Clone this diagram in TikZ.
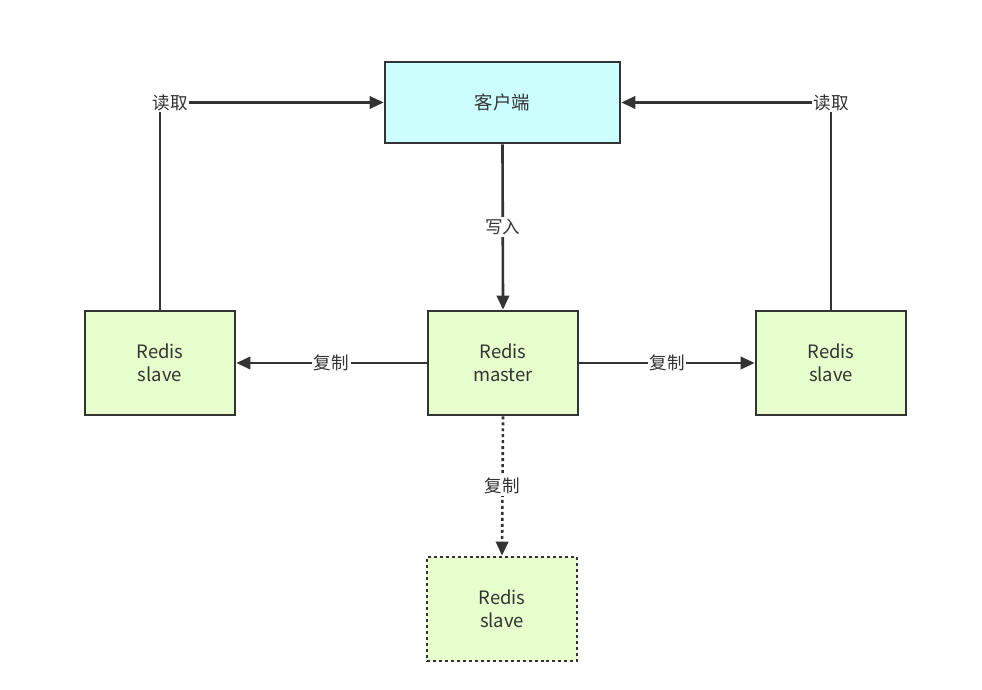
\documentclass[tikz,border=0pt]{standalone}
\usepackage{fontspec}
\setmainfont{Noto Sans CJK SC}
\usetikzlibrary{arrows.meta}
\definecolor{edge}{HTML}{333333}
\definecolor{cyanfill}{HTML}{CCFFFF}
\definecolor{greenfill}{HTML}{E6FFCC}
\definecolor{txt}{HTML}{333333}
\begin{document}
\begin{tikzpicture}[x=0.02cm,y=-0.02cm,
  box/.style={draw=edge,line width=1.5pt,align=center,text=txt,font=\fontsize{10.5}{13}\selectfont,inner sep=0pt},
  client/.style={box,fill=cyanfill,minimum width=4.7cm,minimum height=1.62cm},
  redis/.style={box,fill=greenfill,minimum width=3cm,minimum height=2.08cm},
  conn/.style={draw=edge,line width=1.5pt,-{Triangle[length=8pt,width=7pt]}},
  lbl/.style={fill=white,text=txt,font=\fontsize{10}{12}\selectfont,inner sep=1pt},
  dotline/.style={dash pattern=on 1.7pt off 1.7pt}
]
\useasboundingbox (0,0) rectangle (982,689);
\node[client] (cl) at (502.5,102.5) {客户端};
\node[redis] (ms) at (503,363) {Redis\\master};
\node[redis] (ls) at (160,363) {Redis\\slave};
\node[redis] (rs) at (831,363) {Redis\\slave};
\node[redis,dotline] (bs) at (502,609) {Redis\\slave};

\draw[conn] (ls.north) |- node[lbl,pos=0.5,xshift=0.2cm] {读取} (cl.west);
\draw[conn] (rs.north) |- node[lbl,pos=0.5] {读取} (cl.east);
\draw[conn] (cl.south) -- node[lbl] {写入} (ms.north);
\draw[conn] (ms.west) -- node[lbl] {复制} (ls.east);
\draw[conn] (ms.east) -- node[lbl] {复制} (rs.west);
\draw[conn,dotline] (ms.south) -- node[lbl] {复制} (bs.north);
\end{tikzpicture}
\end{document}
